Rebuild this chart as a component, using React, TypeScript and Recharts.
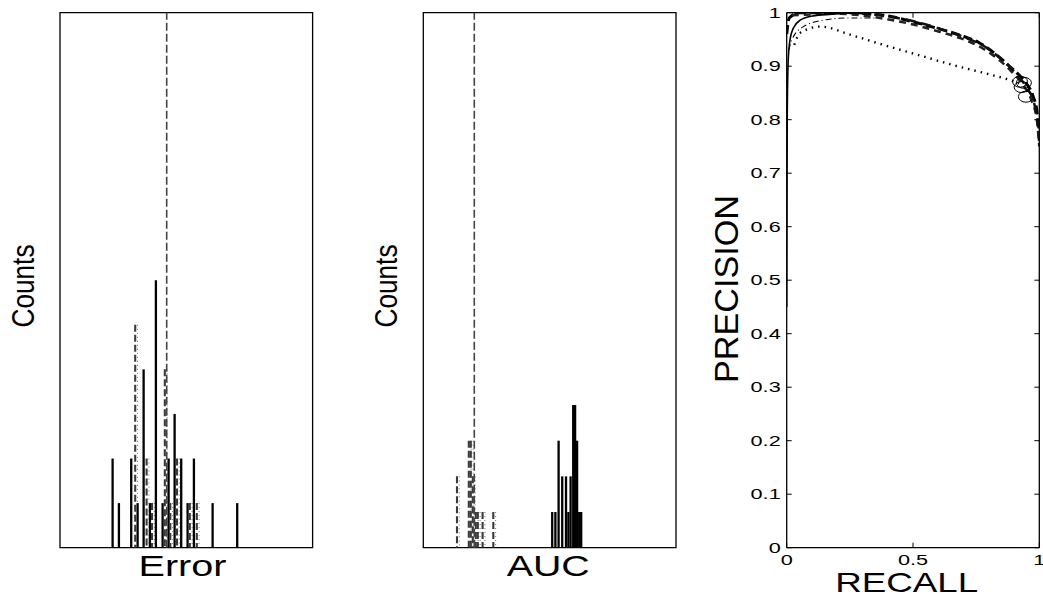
import React from 'react';
import {
  ComposedChart,
  Bar,
  Line,
  Scatter,
  XAxis,
  YAxis,
  ReferenceLine,
  ReferenceArea,
} from 'recharts';

const FONT = '"Liberation Sans", Arial, Helvetica, sans-serif';

// ---------- Panel 1: Error histogram ----------
const errorSolidX = [0.2086, 0.2336, 0.2823, 0.3076, 0.3314, 0.3563, 0.38, 0.4066, 0.4303, 0.4541, 0.4802, 0.5055, 0.5305, 0.6045, 0.7019];
const errorSolidCounts = [2, 1, 2, 1, 4, 1, 6, 1, 2, 3, 2, 1, 2, 1, 1];
const errorDashedX = [0.3005, 0.3456, 0.367, 0.4177, 0.4394, 0.466, 0.5166, 0.5443];
const errorDashedCounts = [5, 2, 1, 4, 1, 2, 1, 1];
const errorMean = 0.4224;
const errorCountMax = 12;

// ---------- Panel 2: AUC histogram ----------
const aucSolidX = [0.5105, 0.5231, 0.5358, 0.5501, 0.5651, 0.5746, 0.5833, 0.5936, 0.6011, 0.609, 0.6173, 0.6252];
const aucSolidCounts = [1, 1, 3, 2, 2, 1, 2, 4, 4, 3, 1, 1];
const aucDashedX = [0.1361, 0.1828, 0.1907, 0.1987, 0.2105, 0.2184, 0.2374, 0.2798];
const aucDashedCounts = [2, 3, 3, 2, 1, 1, 1, 1];
const aucMean = 0.2018;
const aucCountMax = 15;

// ---------- Panel 3: precision / recall ----------
const recallTicks = [0, 0.5, 1];
const precisionTicks = [0, 0.1, 0.2, 0.3, 0.4, 0.5, 0.6, 0.7, 0.8, 0.9, 1];

const solidRecall = [0, 0.002, 0.006, 0.013, 0.026, 0.053, 0.105, 0.2, 0.3];
const solidPrecision = [0.45, 0.8, 0.911, 0.949, 0.971, 0.986, 0.994, 0.998, 1.0];

const bandARecall = [0.0, 0.01, 0.05, 0.2, 0.37, 0.5, 0.594, 0.686, 0.765, 0.831, 0.884, 0.937, 0.976, 0.99, 1.0];
const bandAPrecision = [0.96, 0.99, 1.0, 1.0, 0.996, 0.983, 0.971, 0.958, 0.943, 0.921, 0.899, 0.874, 0.843, 0.818, 0.76];

const bandBRecall = [0.02, 0.2, 0.37, 0.5, 0.6, 0.69, 0.77, 0.84, 0.89, 0.94, 0.97, 0.99, 1.0];
const bandBPrecision = [0.995, 0.998, 0.99, 0.978, 0.965, 0.952, 0.935, 0.912, 0.89, 0.862, 0.835, 0.8, 0.75];

const bandCRecall = [0.03, 0.25, 0.4, 0.52, 0.62, 0.71, 0.79, 0.85, 0.9, 0.95, 0.98, 1.0];
const bandCPrecision = [1.0, 1.0, 0.993, 0.982, 0.968, 0.953, 0.935, 0.913, 0.89, 0.86, 0.83, 0.78];

const dottedRecall = [0.03, 0.053, 0.132, 0.264, 0.396, 0.528, 0.66, 0.792, 0.884, 0.92];
const dottedPrecision = [0.94, 0.962, 0.974, 0.957, 0.938, 0.92, 0.902, 0.886, 0.874, 0.868];

const dashDotRecall = [0.008, 0.02, 0.066, 0.145, 0.238, 0.35];
const dashDotPrecision = [0.93, 0.949, 0.974, 0.986, 0.99, 0.99];

const circleRecall = [0.924, 0.939, 0.93, 0.947];
const circlePrecision = [0.871, 0.869, 0.861, 0.843];

// ---------- helpers ----------
type Row = { x: number; count: number; kind: string };
const buildHist = (sx: number[], sc: number[], dx: number[], dc: number[]): Row[] =>
  [
    ...sx.map((x, i) => ({ x, count: sc[i], kind: 'solid' })),
    ...dx.map((x, i) => ({ x, count: dc[i], kind: 'dashed' })),
  ].sort((a, b) => a.x - b.x);

const toPts = (xs: number[], ys: number[]) => xs.map((x, i) => ({ x, y: ys[i] }));

const errorRows = buildHist(errorSolidX, errorSolidCounts, errorDashedX, errorDashedCounts);
const aucRows = buildHist(aucSolidX, aucSolidCounts, aucDashedX, aucDashedCounts);

const HistBar = (props: any) => {
  const { x, y, width, height, payload } = props;
  if (!height || height <= 0) return null;
  const cx = x + width / 2;
  if (payload.kind === 'dashed') {
    return (
      <g>
        <line x1={cx - 0.6} x2={cx - 0.6} y1={y} y2={y + height} stroke="#3a3a3a" strokeWidth={2.1} strokeDasharray="7 3" />
        <line x1={cx + 1.7} x2={cx + 1.7} y1={y} y2={y + height} stroke="#666" strokeWidth={0.9} strokeDasharray="1 3" />
      </g>
    );
  }
  return <line x1={cx} x2={cx} y1={y} y2={y + height} stroke="#000" strokeWidth={2.3} />;
};

const fmt = (v: number) => String(Math.round(v * 10) / 10);

const BottomTick = (props: any) => {
  const { x, y, payload } = props;
  return (
    <g>
      <line x1={x} y1={y} x2={x} y2={y - 5} stroke="#000" strokeWidth={1} />
      <text
        transform={`translate(${x},${y + 17.5}) scale(1.55,1)`}
        textAnchor="middle"
        fontSize={14}
        fontFamily={FONT}
        fill="#000"
      >
        {fmt(payload.value)}
      </text>
    </g>
  );
};
const LeftTick = (props: any) => {
  const { x, y, payload } = props;
  return (
    <g>
      <line x1={x} y1={y} x2={x + 5} y2={y} stroke="#000" strokeWidth={1} />
      <text
        transform={`translate(${x - 6},${y + 5}) scale(1.55,1)`}
        textAnchor="end"
        fontSize={14}
        fontFamily={FONT}
        fill="#000"
      >
        {fmt(payload.value)}
      </text>
    </g>
  );
};
const TopTick = (props: any) => {
  const { x, y } = props;
  return <line x1={x} y1={y} x2={x} y2={y + 5} stroke="#000" strokeWidth={1} />;
};
const RightTick = (props: any) => {
  const { x, y } = props;
  return <line x1={x} y1={y} x2={x - 5} y2={y} stroke="#000" strokeWidth={1} />;
};

const Ellipse = (p: any) => (
  <ellipse cx={p.cx} cy={p.cy} rx={7.5} ry={5.5} fill="none" stroke="#000" strokeWidth={1} />
);

const hText = (text: string, dx: number, dy: number, size: number, len: number) => (props: any) => {
  const vb = props.viewBox || {};
  return (
    <text
      x={vb.x + vb.width / 2 + dx}
      y={vb.y + dy}
      textAnchor="middle"
      fontSize={size}
      fontFamily={FONT}
      textLength={len}
      lengthAdjust="spacingAndGlyphs"
      fill="#000"
    >
      {text}
    </text>
  );
};

const vText = (text: string, bx: number, dy: number, size: number, len: number) => (props: any) => {
  const vb = props.viewBox || {};
  const cx = vb.x + bx;
  const cy = vb.y + vb.height / 2 + dy;
  return (
    <text
      transform={`translate(${cx},${cy}) rotate(-90)`}
      textAnchor="middle"
      fontSize={size}
      fontFamily={FONT}
      textLength={len}
      lengthAdjust="spacingAndGlyphs"
      fill="#000"
    >
      {text}
    </text>
  );
};

const Histogram = (p: {
  rows: Row[];
  mean: number;
  max: number;
  left: number;
  yAxisWidth: number;
  rightMargin: number;
  xLabel: string;
  xLabelDx: number;
  xLabelLen: number;
}) => (
  <div style={{ position: 'absolute', left: p.left, top: 0 }}>
    <ComposedChart
      width={330}
      height={598}
      data={p.rows}
      margin={{ top: 12.7, right: p.rightMargin, bottom: 0, left: 0 }}
    >
      <XAxis
        type="number"
        dataKey="x"
        domain={[0, 1]}
        allowDataOverflow
        height={50.3}
        tick={false}
        axisLine={false}
        tickLine={false}
        label={{ content: hText(p.xLabel, p.xLabelDx, 28, 29, p.xLabelLen) }}
      />
      <YAxis
        type="number"
        domain={[0, p.max]}
        allowDataOverflow
        width={p.yAxisWidth}
        tick={false}
        axisLine={false}
        tickLine={false}
        label={{ content: vText('Counts', p.yAxisWidth - 26, 5.8, 32, 83) }}
      />
      <Bar dataKey="count" barSize={2} shape={HistBar} isAnimationActive={false} />
      <ReferenceLine x={p.mean} stroke="#444" strokeWidth={1.6} strokeDasharray="8 3" />
      <ReferenceArea x1={0} x2={1} y1={0} y2={p.max} fill="none" stroke="#000" strokeWidth={1.3} />
    </ComposedChart>
  </div>
);

export default function App() {
  return (
    <div
      style={{
        position: 'absolute',
        left: 0,
        top: 0,
        width: 1043,
        height: 598,
        background: '#fff',
        fontFamily: FONT,
      }}
    >
      <Histogram
        rows={errorRows}
        mean={errorMean}
        max={errorCountMax}
        left={0}
        yAxisWidth={60}
        rightMargin={17.4}
        xLabel="Error"
        xLabelDx={-3.8}
        xLabelLen={88}
      />
      <Histogram
        rows={aucRows}
        mean={aucMean}
        max={aucCountMax}
        left={360}
        yAxisWidth={63.3}
        rightMargin={14}
        xLabel="AUC"
        xLabelDx={-1.4}
        xLabelLen={83}
      />
      <div style={{ position: 'absolute', left: 690, top: 0 }}>
        <ComposedChart width={353} height={598} margin={{ top: 0, right: 0, bottom: 0, left: 0 }}>
          <XAxis
            xAxisId="b"
            type="number"
            dataKey="x"
            domain={[0, 1]}
            ticks={recallTicks}
            interval={0}
            allowDataOverflow
            height={50.3}
            tickSize={0}
            tickMargin={0}
            tick={BottomTick}
            axisLine={{ stroke: '#000', strokeWidth: 1.3 }}
            label={{ content: hText('RECALL', -6.3, 44, 28, 143) }}
          />
          <XAxis
            xAxisId="t"
            orientation="top"
            type="number"
            dataKey="x"
            domain={[0, 1]}
            ticks={recallTicks}
            interval={0}
            allowDataOverflow
            height={12.7}
            tickSize={0}
            tickMargin={0}
            tick={TopTick}
            axisLine={{ stroke: '#000', strokeWidth: 1.3 }}
          />
          <YAxis
            yAxisId="l"
            type="number"
            dataKey="y"
            domain={[0, 1]}
            ticks={precisionTicks}
            interval={0}
            allowDataOverflow
            width={96.7}
            tickSize={0}
            tickMargin={0}
            tick={LeftTick}
            axisLine={{ stroke: '#000', strokeWidth: 1.3 }}
            label={{ content: vText('PRECISION', 48, 8.8, 33, 188) }}
          />
          <YAxis
            yAxisId="r"
            orientation="right"
            type="number"
            dataKey="y"
            domain={[0, 1]}
            ticks={precisionTicks}
            interval={0}
            allowDataOverflow
            width={3.7}
            tickSize={0}
            tickMargin={0}
            tick={RightTick}
            axisLine={{ stroke: '#000', strokeWidth: 1.3 }}
          />
          <Line xAxisId="b" yAxisId="l" data={toPts(dottedRecall, dottedPrecision)} dataKey="y" type="monotone" stroke="#000" strokeWidth={2.4} strokeDasharray="1.5 5" dot={false} isAnimationActive={false} />
          <Line xAxisId="b" yAxisId="l" data={toPts(dashDotRecall, dashDotPrecision)} dataKey="y" type="monotone" stroke="#000" strokeWidth={1.1} strokeDasharray="6 3 1 3" dot={false} isAnimationActive={false} />
          <Line xAxisId="b" yAxisId="l" data={toPts(bandARecall, bandAPrecision)} dataKey="y" type="monotone" stroke="#000" strokeWidth={3} strokeDasharray="9 4" dot={false} isAnimationActive={false} />
          <Line xAxisId="b" yAxisId="l" data={toPts(bandBRecall, bandBPrecision)} dataKey="y" type="monotone" stroke="#222" strokeWidth={2.5} strokeDasharray="7 5" dot={false} isAnimationActive={false} />
          <Line xAxisId="b" yAxisId="l" data={toPts(bandCRecall, bandCPrecision)} dataKey="y" type="monotone" stroke="#111" strokeWidth={2.5} strokeDasharray="10 6" dot={false} isAnimationActive={false} />
          <Line xAxisId="b" yAxisId="l" data={toPts(solidRecall, solidPrecision)} dataKey="y" type="monotone" stroke="#000" strokeWidth={1.6} dot={false} isAnimationActive={false} />
          <Scatter xAxisId="b" yAxisId="l" data={toPts(circleRecall, circlePrecision)} dataKey="y" shape={Ellipse} isAnimationActive={false} />
        </ComposedChart>
      </div>
    </div>
  );
}
